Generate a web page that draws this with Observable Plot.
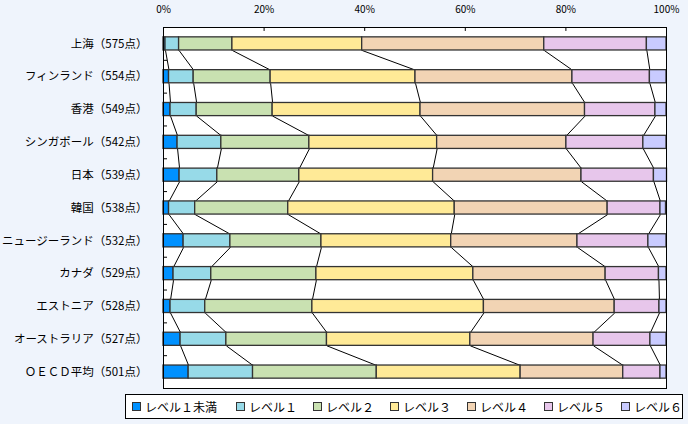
<!DOCTYPE html>
<html><head><meta charset="utf-8">
<script src="https://cdn.jsdelivr.net/npm/d3@7"></script>
<script src="https://cdn.jsdelivr.net/npm/@observablehq/plot@0.6"></script>
<style>
body{margin:0;background:#EFF4FC;font-family:"Noto Sans CJK JP",sans-serif;}
#wrap{position:relative;width:688px;height:424px;overflow:hidden;}
#legend{position:absolute;left:125px;top:394px;width:558px;height:25px;border:1px solid #000;background:#fff;display:flex;align-items:center;padding-left:6px;box-sizing:border-box;font-size:12px;color:#000;}
.item{display:flex;align-items:center;flex:0 0 77px;white-space:nowrap;}
.item:first-child{flex-basis:104px;}
.sw{width:7px;height:7px;border:1px solid #333;margin-right:4px;}
</style></head>
<body><div id="wrap"><div id="chart"></div><div id="legend"></div></div>
<script>
const countries = ["上海","フィンランド","香港","シンガポール","日本","韓国","ニュージーランド","カナダ","エストニア","オーストラリア","ＯＥＣＤ平均"];
const scores = [575,554,549,542,539,538,532,529,528,527,501];
const levels = ["レベル１未満","レベル１","レベル２","レベル３","レベル４","レベル５","レベル６"];
const colors = ["#0091FF","#97DAE8","#C9E1B1","#FFEA97","#F2D4B4","#E7C6EB","#C9CBFF"];
const below1 = [0.4,1.1,1.4,2.8,3.2,1.1,4.0,2.0,1.4,3.4,5.0];
const level1 = [2.7,4.9,5.2,8.7,7.5,5.2,9.3,7.5,6.9,9.1,12.8];
const level2 = [10.6,15.3,15.1,17.5,16.3,18.5,18.1,20.9,21.3,20.0,24.6];
const level3 = [25.8,28.8,29.4,25.4,26.6,33.1,25.8,31.2,34.1,28.5,28.6];
const level4 = [36.2,31.2,32.7,25.7,29.5,30.4,25.1,26.3,26.0,24.5,20.4];
const level5 = [20.4,15.4,14.0,15.3,14.4,10.5,14.1,10.6,8.9,11.3,7.4];
const level6 = [3.9,3.3,2.2,4.6,2.6,1.1,3.6,1.5,1.4,3.2,1.2];
const xTicks = [0,20,40,60,80,100];

const series = [below1,level1,level2,level3,level4,level5,level6];
const n = countries.length;
const half = 0.2;
const rows = [], cums = [];
countries.forEach((c,i)=>{
  let s = 0; const cum = [0];
  series.forEach((arr,k)=>{ rows.push({i, level: levels[k], a: s, b: s + arr[i]}); s += arr[i]; cum.push(s); });
  cums.push(cum);
});
const links = [];
for (let i = 0; i < n - 1; i++) for (let k = 1; k < levels.length; k++)
  links.push({xa: cums[i][k], ya: i + half, xb: cums[i+1][k], yb: i + 1 - half});

const chart = Plot.plot({
  width: 688, height: 392,
  marginTop: 27, marginBottom: 4, marginLeft: 163, marginRight: 22,
  style: {background: "transparent", fontFamily: "'Noto Sans CJK JP', sans-serif", color: "#000", overflow: "visible"},
  x: {domain: [0, 100]},
  y: {domain: [-0.5, n - 0.5], reverse: true},
  color: {domain: levels, range: colors},
  marks: [
    Plot.frame({fill: "white"}),
    Plot.link(links, {x1: "xa", y1: "ya", x2: "xb", y2: "yb", stroke: "#000", strokeWidth: 1}),
    Plot.rect(rows, {x1: "a", x2: "b", y1: d => d.i - half, y2: d => d.i + half, fill: "level", stroke: "#333", strokeWidth: 1.3}),
    Plot.ruleY(d3.range(n - 1).map(i => i + 0.5), {x1: 0, x2: 0.8, stroke: "#000"}),
    Plot.ruleX(xTicks.slice(1, -1), {y1: -0.5, y2: -0.38, stroke: "#000"}),
    Plot.axisX({anchor: "top", ticks: xTicks, tickFormat: d => d + "%", tickSize: 0, tickPadding: 15, fontSize: 10, label: null}),
    Plot.axisY({ticks: d3.range(n), tickFormat: i => `${countries[i]}（${scores[i]}点）`, tickSize: 0, tickPadding: 16, fontSize: 11.5, label: null}),
    Plot.frame({stroke: "#000"})
  ]
});
document.getElementById("chart").appendChild(chart);

const lg = document.getElementById("legend");
levels.forEach((l,k)=>{
  const it = document.createElement("div"); it.className = "item";
  const sw = document.createElement("div"); sw.className = "sw"; sw.style.background = colors[k];
  const t = document.createElement("span"); t.textContent = l;
  it.appendChild(sw); it.appendChild(t); lg.appendChild(it);
});
</script>
</body></html>
